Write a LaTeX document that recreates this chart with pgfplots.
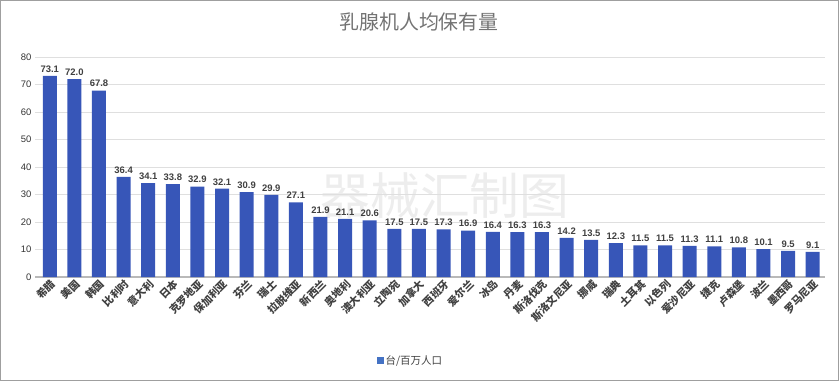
\documentclass[border=0pt]{standalone}
\usepackage{fontspec}
\setmainfont{Liberation Sans}
\newfontfamily\cjk{Noto Sans CJK SC}
\usepackage{pgfplots}
\pgfplotsset{compat=1.18}
\definecolor{barblue}{HTML}{3756B8}
\definecolor{legblue}{HTML}{4472C4}
\begin{document}
\begin{tikzpicture}[x=1bp,y=1bp]
\useasboundingbox (0,0) rectangle (839,381);
\draw[gray!75, line width=1.5bp] (0.75,0.75) rectangle (838.25,380.25);
\node[font=\cjk\fontsize{50}{50}\selectfont, text=black!7] at (445,185) {器械汇制图};
\node[font=\cjk\fontsize{20}{20}\selectfont, text=black!55] at (419,359) {乳腺机人均保有量};
\begin{axis}[
  at={(35bp,104bp)}, anchor=south west,
  scale only axis, width=790bp, height=220bp,
  ymin=0, ymax=80, ytick={0,10,...,80},
  xmin=-0.6, xmax=31.5,
  xtick=data,
  xticklabels={希腊,美国,韩国,比利时,意大利,日本,克罗地亚,保加利亚,芬兰,瑞士,拉脱维亚,新西兰,奥地利,澳大利亚,立陶宛,加拿大,西班牙,爱尔兰,冰岛,丹麦,斯洛伐克,斯洛文尼亚,挪威,瑞典,土耳其,以色列,爱沙尼亚,捷克,卢森堡,波兰,墨西哥,罗马尼亚},
  x tick label style={rotate=45, anchor=north east, font=\cjk\bfseries\fontsize{10.5}{11}\selectfont, text=black!75, inner sep=1pt},
  y tick label style={font=\fontsize{9.5}{10}\selectfont, text=black!80},
  /pgf/number format/assume math mode=true,
  axis lines*=left,
  y axis line style={draw=none},
  x axis line style={draw=gray!55, line width=1.2bp},
  major tick length=0pt,
  ymajorgrids, grid style={gray!25, line width=0.6bp},
  ybar, bar width=14bp,
  nodes near coords,
  nodes near coords style={font=\bfseries\fontsize{9.5}{10}\selectfont, text=black!75, /pgf/number format/fixed, /pgf/number format/precision=1, /pgf/number format/fixed zerofill, /pgf/number format/assume math mode=true},
  legend style={at={(0.475,-0.38)}, anchor=center, draw=none, font=\cjk\fontsize{10.5}{11}\selectfont, text=black!75},
  legend image code/.code={\fill[legblue] (0bp,-3.5bp) rectangle (7bp,3.5bp);},
]
\addplot[fill=barblue, draw=none] coordinates {
(0,73.1) (1,72.0) (2,67.8) (3,36.4) (4,34.1) (5,33.8) (6,32.9) (7,32.1)
(8,30.9) (9,29.9) (10,27.1) (11,21.9) (12,21.1) (13,20.6) (14,17.5) (15,17.5)
(16,17.3) (17,16.9) (18,16.4) (19,16.3) (20,16.3) (21,14.2) (22,13.5) (23,12.3)
(24,11.5) (25,11.5) (26,11.3) (27,11.1) (28,10.8) (29,10.1) (30,9.5) (31,9.1)
};
\addlegendentry{台/百万人口}
\end{axis}
\end{tikzpicture}
\end{document}
